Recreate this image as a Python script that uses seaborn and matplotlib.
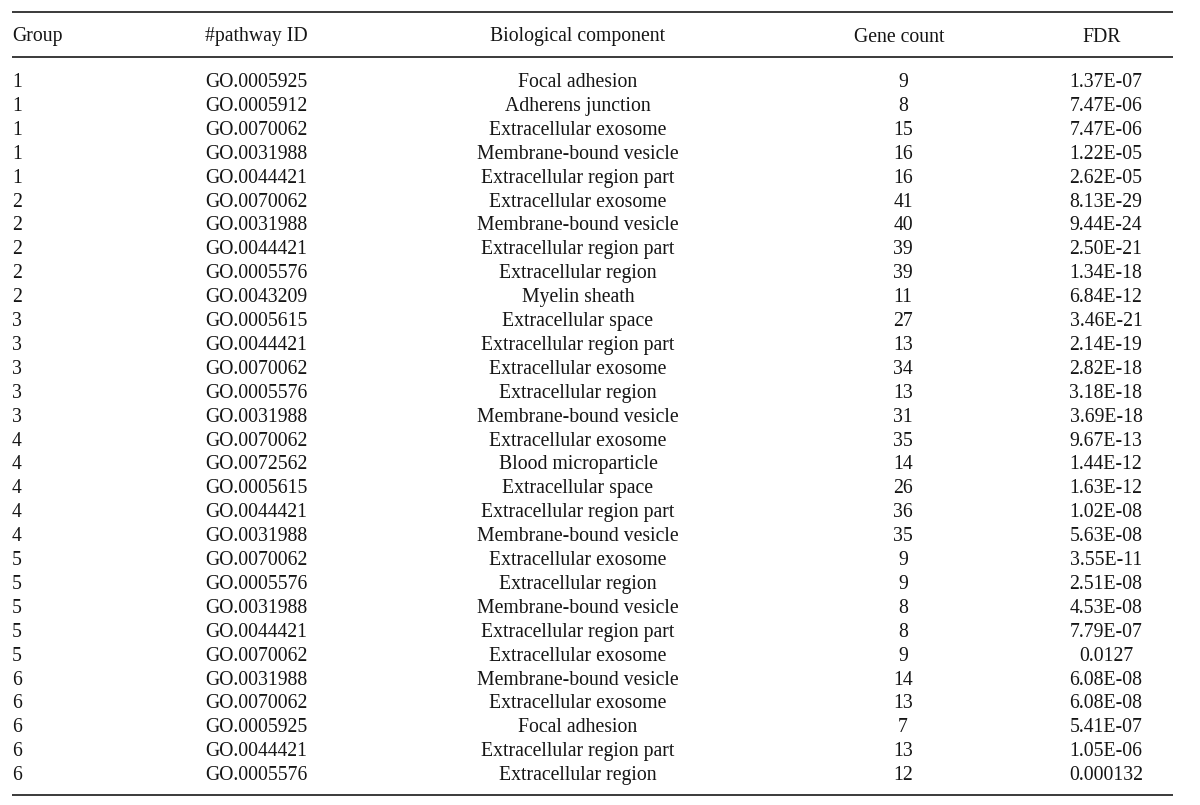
import pandas as pd
import seaborn as sns
import matplotlib.pyplot as plt

# Data
COLUMNS = ['Group', '#pathway ID', 'Biological component', 'Gene count', 'FDR']
GROUPS = [1, 1, 1, 1, 1, 2, 2, 2, 2, 2, 3, 3, 3, 3, 3,
          4, 4, 4, 4, 4, 5, 5, 5, 5, 5, 6, 6, 6, 6, 6]
PATHWAY_IDS = [
    'GO.0005925', 'GO.0005912', 'GO.0070062', 'GO.0031988', 'GO.0044421',
    'GO.0070062', 'GO.0031988', 'GO.0044421', 'GO.0005576', 'GO.0043209',
    'GO.0005615', 'GO.0044421', 'GO.0070062', 'GO.0005576', 'GO.0031988',
    'GO.0070062', 'GO.0072562', 'GO.0005615', 'GO.0044421', 'GO.0031988',
    'GO.0070062', 'GO.0005576', 'GO.0031988', 'GO.0044421', 'GO.0070062',
    'GO.0031988', 'GO.0070062', 'GO.0005925', 'GO.0044421', 'GO.0005576',
]
COMPONENTS = [
    'Focal adhesion', 'Adherens junction', 'Extracellular exosome',
    'Membrane-bound vesicle', 'Extracellular region part',
    'Extracellular exosome', 'Membrane-bound vesicle', 'Extracellular region part',
    'Extracellular region', 'Myelin sheath',
    'Extracellular space', 'Extracellular region part', 'Extracellular exosome',
    'Extracellular region', 'Membrane-bound vesicle',
    'Extracellular exosome', 'Blood microparticle', 'Extracellular space',
    'Extracellular region part', 'Membrane-bound vesicle',
    'Extracellular exosome', 'Extracellular region', 'Membrane-bound vesicle',
    'Extracellular region part', 'Extracellular exosome',
    'Membrane-bound vesicle', 'Extracellular exosome', 'Focal adhesion',
    'Extracellular region part', 'Extracellular region',
]
GENE_COUNTS = [9, 8, 15, 16, 16, 41, 40, 39, 39, 11, 27, 13, 34, 13, 31,
               35, 14, 26, 36, 35, 9, 9, 8, 8, 9, 14, 13, 7, 13, 12]
FDR = [
    '1.37E-07', '7.47E-06', '7.47E-06', '1.22E-05', '2.62E-05',
    '8.13E-29', '9.44E-24', '2.50E-21', '1.34E-18', '6.84E-12',
    '3.46E-21', '2.14E-19', '2.82E-18', '3.18E-18', '3.69E-18',
    '9.67E-13', '1.44E-12', '1.63E-12', '1.02E-08', '5.63E-08',
    '3.55E-11', '2.51E-08', '4.53E-08', '7.79E-07', '0.0127',
    '6.08E-08', '6.08E-08', '5.41E-07', '1.05E-06', '0.000132',
]

table = pd.DataFrame({
    COLUMNS[0]: GROUPS,
    COLUMNS[1]: PATHWAY_IDS,
    COLUMNS[2]: COMPONENTS,
    COLUMNS[3]: GENE_COUNTS,
    COLUMNS[4]: FDR,
})

sns.set_theme(style='white')
plt.rcParams['font.family'] = ['Liberation Serif', 'DejaVu Serif']

fig = plt.figure(figsize=(12, 8.05), dpi=100)
ax = fig.add_axes([0, 0, 1, 1])
ax.set_xlim(0, 1200)
ax.set_ylim(805, 0)
ax.axis('off')

# column layout: (x, alignment)
col_pos = [(12, 'left'), (205, 'left'), (578, 'center'), (903, 'center'), (1106, 'center')]
header_x = [12, 205, 578, 899, 1102]
header_base = 41.5
row_base0 = 87
row_step = 23.9
fs = 14.2
txt_color = '#151515'

for (x, ha), hx, name in zip(col_pos, header_x, COLUMNS):
    ax.text(hx, header_base, name, ha=ha, va='baseline', fontsize=fs, color=txt_color)

for i, row in table.iterrows():
    y = row_base0 + i * row_step
    for (x, ha), name in zip(col_pos, COLUMNS):
        ax.text(x, y, str(row[name]), ha=ha, va='baseline', fontsize=fs, color=txt_color)

# rules
ax.hlines([12, 57, 795], 12, 1173, colors='#3a3a3a', linewidth=1.4)

fig.savefig('out.png', dpi=100, facecolor='white')
